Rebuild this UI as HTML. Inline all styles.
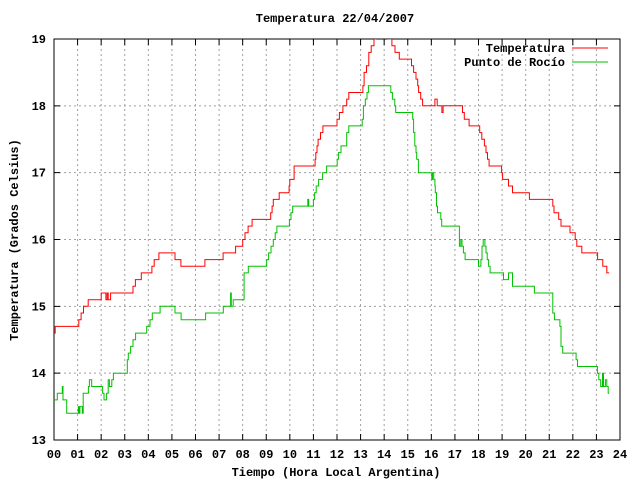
<!DOCTYPE html>
<html><head><meta charset="utf-8"><style>
body{margin:0;background:#fff}
svg text{font-family:"Liberation Mono",monospace;font-size:12px;font-weight:bold;fill:#000}
</style></head><body>
<svg id="chart" width="640" height="480" xmlns="http://www.w3.org/2000/svg">
<rect width="640" height="480" fill="#fff"/>
<text x="335" y="22" text-anchor="middle">Temperatura 22/04/2007</text>
<text x="336" y="476" text-anchor="middle">Tiempo (Hora Local Argentina)</text>
<text transform="translate(18,240) rotate(-90)" text-anchor="middle">Temperatura (Grados Celsius)</text>
<g id="grid"></g>
<g id="axes"></g>
<g id="series"></g>
<g>
<text x="565" y="52" text-anchor="end">Temperatura</text>
<line x1="572" y1="48" x2="608" y2="48" stroke="#ff0000" stroke-width="1"/>
<text x="565" y="66" text-anchor="end">Punto de Rocío</text>
<line x1="572" y1="62" x2="608" y2="62" stroke="#00c000" stroke-width="1"/>
</g>
</svg>
<script>
const xTicks=["00","01","02","03","04","05","06","07","08","09","10","11","12","13","14","15","16","17","18","19","20","21","22","23","24"];
const yTicks=[13,14,15,16,17,18,19];
const tempTimes=[0,0.05,1.05,1.15,1.25,1.45,2.0,2.2,2.25,2.3,2.4,3.35,3.45,3.7,4.0,4.15,4.25,4.45,5.13,5.38,6.4,7.17,7.7,8.0,8.1,8.23,8.4,8.57,9.19,9.25,9.3,9.4,9.55,9.97,10.0,10.18,11.07,11.1,11.15,11.2,11.3,11.4,11.56,12.0,12.1,12.25,12.41,12.5,12.58,13.1,13.15,13.25,13.35,13.45,13.57,13.65,14.15,14.33,14.46,14.64,15.16,15.25,15.35,15.42,15.46,15.55,15.63,16.15,16.25,16.45,16.5,16.6,17.32,17.4,17.6,18.05,18.14,18.25,18.32,18.38,18.45,18.98,19.02,19.27,19.44,20.16,21.15,21.2,21.4,21.5,21.88,22.1,22.17,22.38,23.0,23.05,23.27,23.44,23.54];
const tempVals=[14.6,14.7,14.8,14.9,15.0,15.1,15.2,15.1,15.2,15.1,15.2,15.3,15.4,15.5,15.5,15.6,15.7,15.8,15.7,15.6,15.7,15.8,15.9,16.0,16.1,16.2,16.3,16.3,16.4,16.5,16.6,16.6,16.7,16.8,16.9,17.1,17.2,17.3,17.4,17.5,17.6,17.7,17.7,17.8,17.9,18.0,18.1,18.2,18.2,18.3,18.5,18.6,18.8,18.9,19.0,19.1,19.0,18.9,18.8,18.7,18.6,18.5,18.4,18.3,18.2,18.1,18.0,18.1,18.0,17.9,18.0,18.0,17.9,17.8,17.7,17.6,17.5,17.4,17.3,17.2,17.1,17.0,16.9,16.8,16.7,16.6,16.5,16.4,16.3,16.2,16.1,16.0,15.9,15.8,15.8,15.7,15.6,15.5,15.5];
const dewTimes=[0,0.04,0.14,0.35,0.38,0.54,1.03,1.07,1.1,1.2,1.24,1.46,1.5,1.6,2.06,2.12,2.16,2.23,2.3,2.35,2.4,2.45,2.52,3.11,3.15,3.25,3.35,3.4,3.46,3.93,4.07,4.17,4.5,5.13,5.39,6.43,7.18,7.49,7.52,7.6,8.06,8.24,9.02,9.1,9.2,9.3,9.38,9.45,9.51,9.98,10.05,10.12,10.19,10.76,10.8,11.0,11.05,11.12,11.22,11.39,11.56,12.01,12.06,12.17,12.41,12.5,12.58,13.07,13.12,13.2,13.27,13.33,13.44,14.28,14.35,14.45,14.49,14.56,15.21,15.25,15.3,15.35,15.38,15.45,15.52,16.02,16.05,16.1,16.15,16.17,16.22,16.26,16.4,16.44,16.51,17.19,17.25,17.3,17.36,17.43,17.53,18.0,18.1,18.15,18.2,18.27,18.32,18.37,18.43,18.49,19.06,19.27,19.44,20.16,20.37,21.15,21.2,21.22,21.45,21.5,21.57,22.14,22.2,22.4,23.04,23.1,23.18,23.26,23.3,23.38,23.44,23.5,23.54];
const dewVals=[13.6,13.6,13.7,13.8,13.6,13.4,13.5,13.4,13.5,13.4,13.7,13.8,13.9,13.8,13.7,13.6,13.6,13.7,13.9,13.8,13.8,13.9,14.0,14.2,14.3,14.4,14.5,14.5,14.6,14.7,14.8,14.9,15.0,14.9,14.8,14.9,15.0,15.2,15.0,15.1,15.5,15.6,15.7,15.8,15.9,16.0,16.1,16.2,16.2,16.3,16.4,16.5,16.5,16.6,16.5,16.6,16.7,16.8,16.9,17.0,17.1,17.2,17.3,17.4,17.6,17.7,17.7,17.8,18.0,18.1,18.2,18.3,18.3,18.2,18.1,18.0,17.9,17.9,17.8,17.6,17.4,17.3,17.2,17.0,17.0,16.9,17.0,16.9,16.8,16.7,16.5,16.4,16.3,16.2,16.2,15.9,16.0,15.9,15.8,15.7,15.7,15.6,15.7,15.9,16.0,15.9,15.8,15.7,15.6,15.5,15.4,15.5,15.3,15.3,15.2,14.9,14.9,14.8,14.7,14.4,14.3,14.2,14.1,14.1,14.0,13.9,13.8,14.0,13.8,13.9,13.8,13.7];
const X0=54,X1=620,Y0=440,Y1=39;
function xs(h){return X0+(h/24)*(X1-X0);}
function ys(v){return Y0-(v-13)/6*(Y0-Y1);}
const NS="http://www.w3.org/2000/svg";
const grid=document.getElementById('grid'),axes=document.getElementById('axes'),ser=document.getElementById('series');
function mk(tag,attrs,parent){const e=document.createElementNS(NS,tag);for(const k in attrs)e.setAttribute(k,attrs[k]);parent.appendChild(e);return e;}
xTicks.forEach((t,i)=>{
  const x=xs(i);
  if(i>0&&i<24){const g=mk('line',{x1:x,y1:Y1,x2:x,y2:Y0,stroke:'#a0a0a0','stroke-dasharray':'2,3'},grid);
  
  }
  const tk=mk('path',{d:`M${x},${Y0}v-6M${x},${Y1}v6`,stroke:'#000'},axes);
  
  
  const tx=mk('text',{x:x,y:458,'text-anchor':'middle'},axes);tx.textContent=t;
  
  
});
yTicks.forEach(v=>{
  const y=ys(v);
  if(v>13&&v<19){const g=mk('line',{x1:X0,y1:y,x2:X1,y2:y,stroke:'#a0a0a0','stroke-dasharray':'2,3'},grid);
  
  }
  const tk=mk('path',{d:`M${X0},${y}h6M${X1},${y}h-6`,stroke:'#000'},axes);
  
  
  const tx=mk('text',{x:46,y:y+4,'text-anchor':'end'},axes);tx.textContent=v;
  
  
});
const border=mk('rect',{x:X0,y:Y1,width:X1-X0,height:Y0-Y1,fill:'none',stroke:'#000'},axes);


function stepPath(ts,vs){let d='';for(let i=0;i<ts.length;i++){const x=xs(ts[i]).toFixed(1),y=ys(Math.min(vs[i],19.05)).toFixed(1);d+=(i==0?`M${x},${y}`:`H${x}V${y}`);}return d;}
const ck=document.createElementNS(NS,'clipPath');ck.id='clip';mk('rect',{x:X0,y:Y1,width:X1-X0,height:Y0-Y1},ck);document.getElementById('chart').appendChild(ck);
const t=mk('path',{d:stepPath(tempTimes,tempVals),fill:'none',stroke:'#ff0000','stroke-width':1,'clip-path':'url(#clip)'},ser);


const d=mk('path',{d:stepPath(dewTimes,dewVals),fill:'none',stroke:'#00c000','stroke-width':1,'clip-path':'url(#clip)'},ser);


</script>
</body></html>
